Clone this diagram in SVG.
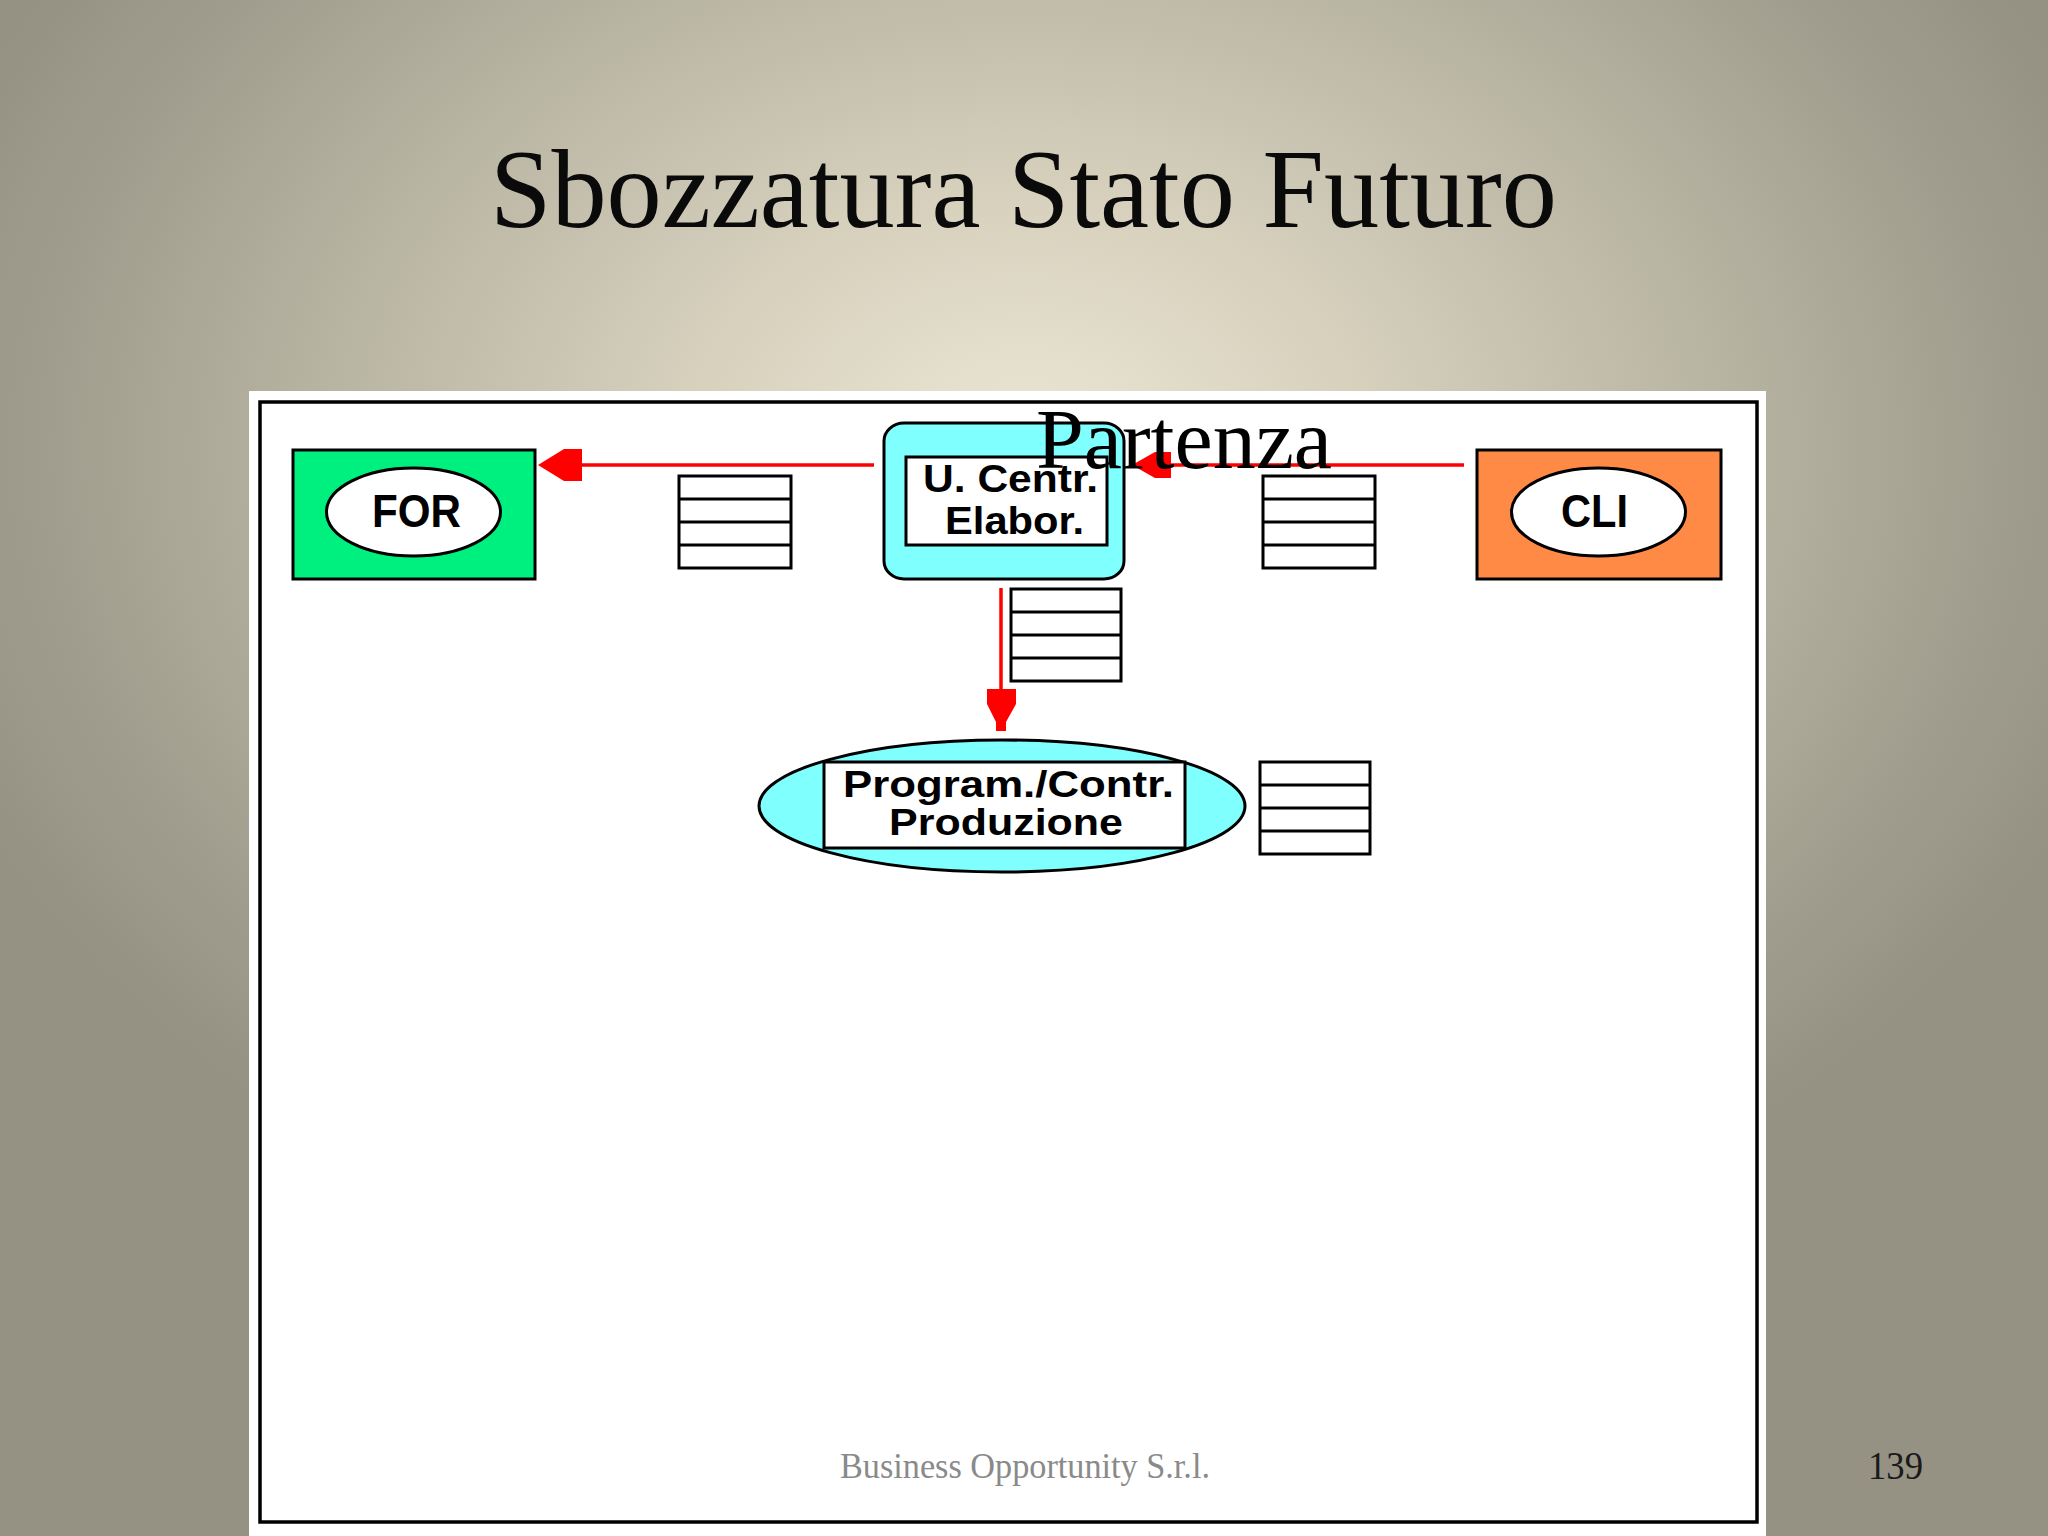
<svg xmlns="http://www.w3.org/2000/svg" width="2048" height="1536" viewBox="0 0 2048 1536">
<defs>
<radialGradient id="bg" gradientUnits="userSpaceOnUse" cx="1024" cy="450" r="1150" gradientTransform="translate(1024 450) scale(1 0.75) translate(-1024 -450)">
<stop offset="0" stop-color="#ece6d4"/>
<stop offset="0.3" stop-color="#d6d0bd"/>
<stop offset="0.6" stop-color="#b9b5a3"/>
<stop offset="0.85" stop-color="#a19d8e"/>
<stop offset="1" stop-color="#959284"/>
</radialGradient>
<style>
.ln{stroke:#ff0000;stroke-width:3.5;fill:none}
.ah{fill:#ff0000}
.st{fill:#ffffff;stroke:#000;stroke-width:3}
.nb{stroke:#000;stroke-width:3}
.nt{font-family:"Liberation Sans",Arial,sans-serif;font-weight:bold;fill:#000;text-anchor:start}
.serif{font-family:"Liberation Serif","Times New Roman",serif}
</style>
</defs>
<rect x="0" y="0" width="2048" height="1536" fill="url(#bg)"/>
<text class="serif" x="490" y="227" font-size="112" textLength="1067" lengthAdjust="spacingAndGlyphs" fill="#0a0a0a">Sbozzatura Stato Futuro</text>
<rect x="249" y="391" width="1517" height="1145" fill="#ffffff"/>
<rect x="260" y="402" width="1497" height="1120" fill="none" stroke="#000" stroke-width="3.5"/>

<g id="connectors">
<line class="ln" x1="874" y1="465" x2="580" y2="465"/>
<polygon class="ah" points="538,465 564,449 582,449 582,481 564,481"/>
<line class="ln" x1="1464" y1="465" x2="1169" y2="465"/>
<polygon class="ah" points="1132,465 1155,452 1171,452 1171,478 1155,478"/>
<line class="ln" x1="1001" y1="588" x2="1001" y2="692"/>
<polygon class="ah" points="987,689 1016,689 1016,704 1006,722 1006,731 996,731 996,722 987,704"/>
</g>

<g id="node-for">
<rect class="nb" x="293" y="450" width="242" height="129" fill="#00f07f"/>
<ellipse class="nb" cx="413.5" cy="512" rx="87" ry="44" fill="#ffffff"/>
<text class="nt" x="372" y="527" font-size="46" textLength="89" lengthAdjust="spacingAndGlyphs">FOR</text>
</g>

<g id="store-1">
<rect class="st" x="679" y="476" width="112" height="92"/>
<line class="nb" x1="679" y1="499" x2="791" y2="499"/>
<line class="nb" x1="679" y1="522" x2="791" y2="522"/>
<line class="nb" x1="679" y1="545" x2="791" y2="545"/>
</g>

<g id="node-ucentr">
<rect class="nb" x="884" y="423" width="240" height="156" rx="20" ry="18" fill="#80ffff"/>
<rect class="nb" x="906" y="457" width="201" height="88" fill="#ffffff"/>
<text class="nt" x="923" y="492" font-size="38" textLength="175" lengthAdjust="spacingAndGlyphs">U. Centr.</text>
<text class="nt" x="945" y="534" font-size="38" textLength="139" lengthAdjust="spacingAndGlyphs">Elabor.</text>
</g>

<g id="store-2">
<rect class="st" x="1263" y="476" width="112" height="92"/>
<line class="nb" x1="1263" y1="499" x2="1375" y2="499"/>
<line class="nb" x1="1263" y1="522" x2="1375" y2="522"/>
<line class="nb" x1="1263" y1="545" x2="1375" y2="545"/>
</g>

<g id="node-cli">
<rect class="nb" x="1477" y="450" width="244" height="129" fill="#ff8a45"/>
<ellipse class="nb" cx="1598.5" cy="512" rx="87" ry="44" fill="#ffffff"/>
<text class="nt" x="1561" y="527" font-size="46" textLength="67" lengthAdjust="spacingAndGlyphs">CLI</text>
</g>

<g id="store-3">
<rect class="st" x="1011" y="589" width="110" height="92"/>
<line class="nb" x1="1011" y1="612" x2="1121" y2="612"/>
<line class="nb" x1="1011" y1="635" x2="1121" y2="635"/>
<line class="nb" x1="1011" y1="658" x2="1121" y2="658"/>
</g>

<g id="node-prod">
<ellipse class="nb" cx="1002" cy="806" rx="243" ry="66" fill="#80ffff"/>
<rect class="nb" x="824" y="762" width="361" height="86" fill="#ffffff"/>
<text class="nt" x="843" y="797" font-size="37" textLength="331" lengthAdjust="spacingAndGlyphs">Program./Contr.</text>
<text class="nt" x="889" y="835" font-size="37" textLength="234" lengthAdjust="spacingAndGlyphs">Produzione</text>
</g>

<g id="store-4">
<rect class="st" x="1260" y="762" width="110" height="92"/>
<line class="nb" x1="1260" y1="785" x2="1370" y2="785"/>
<line class="nb" x1="1260" y1="808" x2="1370" y2="808"/>
<line class="nb" x1="1260" y1="831" x2="1370" y2="831"/>
</g>

<text class="serif" x="1036" y="468" font-size="85" textLength="296" lengthAdjust="spacingAndGlyphs" fill="#000">Partenza</text>
<text class="serif" x="840" y="1478" font-size="35" textLength="370" lengthAdjust="spacingAndGlyphs" fill="#8a8a8a">Business Opportunity S.r.l.</text>
<text class="serif" x="1868" y="1479" font-size="39" textLength="55" lengthAdjust="spacingAndGlyphs" fill="#1a1a1a">139</text>
</svg>
